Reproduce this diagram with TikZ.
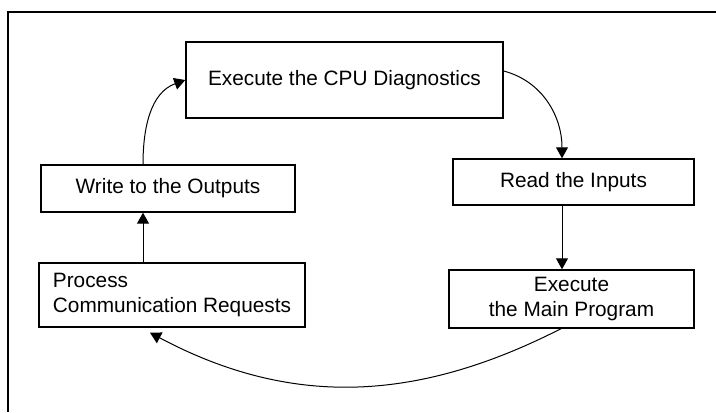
\documentclass[tikz,border=0pt]{standalone}
\usepackage{fontspec}
\setmainfont{Liberation Sans}
\usetikzlibrary{arrows.meta}
\begin{document}
\begin{tikzpicture}[x=0.5pt, y=0.5pt,
	box/.style={draw, line width=0.7pt, inner sep=0pt, align=center, font=\fontsize{10.4}{12.5}\selectfont},
	flow/.style={-{Triangle[length=5.5pt,width=6pt]}, line width=0.5pt}]
			\useasboundingbox (0,0) rectangle (716,412);
			%Frame
			\draw[line width=1.2pt] (8,0) -- (8,400) -- (716,400);
			%Boxes
			\node[box, minimum width=158.5pt, minimum height=38pt] (cpu) at (344.5,332) {Execute the CPU Diagnostics};
			\node[box, minimum width=120.5pt, minimum height=23pt] (read) at (573.5,230) {Read the Inputs};
			\node[box, minimum width=122.5pt, minimum height=29pt] (main) at (571.5,113) {Execute\\the Main Program};
			\node[box, align=left, minimum width=133pt, minimum height=32pt] (proc) at (172,117) {Process\\Communication Requests};
			\node[box, minimum width=127pt, minimum height=23.5pt] (write) at (168,223.5) {Write to the Outputs};
			%Arrows
			\draw[flow] ([yshift=4.5pt]cpu.east) to[out=-15, in=90] ([xshift=-5.75pt]read.north);
			\draw[flow] ([xshift=-5.75pt]read.south) -- ([xshift=-5.75pt]read.south |- main.north);
			\draw[flow] ([xshift=-5.25pt]main.south) to[out=-153, in=-28] ([xshift=-11pt, yshift=-2.5pt]proc.south);
			\draw[flow] ([xshift=-14.5pt]proc.north) -- ([xshift=-14.5pt]proc.north |- write.south);
			\draw[flow] ([xshift=-12.5pt]write.north) to[out=90, in=200] (cpu.west);
\end{tikzpicture}
\end{document}
